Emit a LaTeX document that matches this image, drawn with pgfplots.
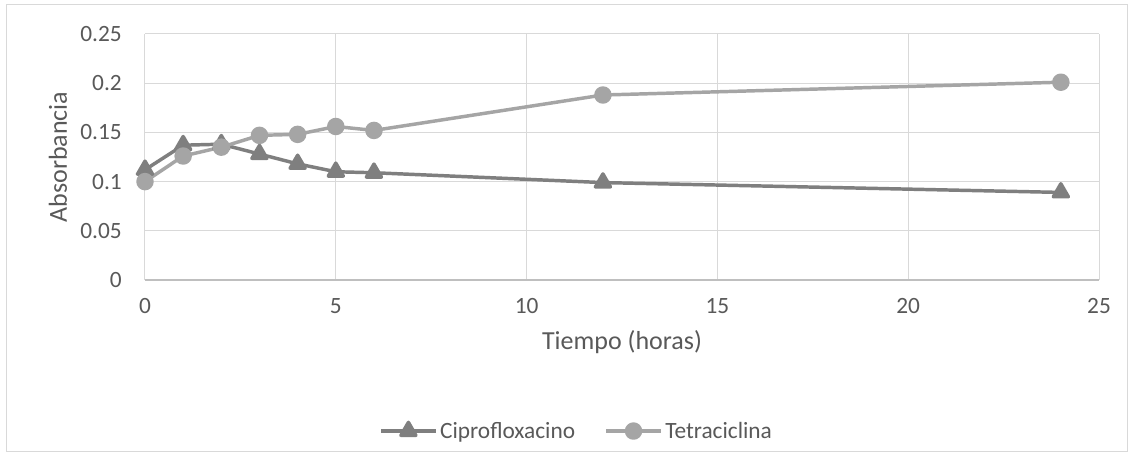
\documentclass[border=0pt]{standalone}
\usepackage{fontspec}
\setmainfont{Carlito}
\usepackage{pgfplots}
\pgfplotsset{compat=1.18}
\definecolor{cipro}{HTML}{7F7F7F}
\definecolor{tetra}{HTML}{A5A5A5}
\definecolor{gridc}{HTML}{D9D9D9}
\definecolor{basec}{HTML}{BFBFBF}
\definecolor{txt}{HTML}{595959}

\begin{document}
\begin{tikzpicture}
% chart area (1px = 0.75pt)
\fill[white] (-108.75pt,-132pt) rectangle (740.25pt,210pt);
\draw[gridc, line width=0.75pt] (-103.5pt,-129pt) rectangle (736.5pt,206.25pt);
\begin{axis}[
  width=715.5pt, height=184.5pt, scale only axis,
  xmin=0, xmax=25, ymin=0, ymax=0.25,
  clip=false,
  xtick={0,5,10,15,20,25}, xticklabels={0,5,10,15,20,25},
  ytick={0,0.05,0.1,0.15,0.2,0.25}, yticklabels={0,0.05,0.1,0.15,0.2,0.25},
  grid=major, grid style={gridc, line width=0.75pt},
  axis line style={draw=none},
  major tick length=0pt,
  tick label style={font=\fontsize{17.5}{21}\selectfont, text=txt, inner sep=0pt},
  yticklabel style={anchor=east, xshift=-17.25pt},
  xticklabel style={anchor=north, yshift=-13.5pt},
  xlabel={Tiempo (horas)}, ylabel={Absorbancia},
  label style={font=\fontsize{19.5}{23}\selectfont, text=txt},
  xlabel style={at={(axis description cs:0.5,-0.252)}, anchor=center},
  ylabel style={at={(axis description cs:-0.0912,0.5)}, anchor=center},
  legend columns=2,
  legend style={at={(axis description cs:0.4528,-0.614)}, anchor=center,
    draw=none, fill=none, font=\fontsize{17.5}{21}\selectfont, text=txt,
    /tikz/every even column/.append style={column sep=20pt},
    nodes={inner sep=2pt}},
  legend image code/.code={\draw[mark repeat=2, mark phase=2, #1]
    plot coordinates {(0pt,0pt) (20.5pt,0pt) (41pt,0pt)};},
]
\draw[basec, line width=1pt] (axis cs:0,0) -- (axis cs:25,0);
\addplot[cipro, line width=2.6pt, line join=round, mark=triangle*, mark size=6.5pt, mark options={solid}]
  coordinates {(0,0.112) (1,0.137) (2,0.138) (3,0.128) (4,0.118) (5,0.110) (6,0.109) (12,0.099) (24,0.089)};
\addplot[tetra, line width=2.6pt, line join=round, mark=*, mark size=5.25pt, mark options={solid}]
  coordinates {(0,0.100) (1,0.126) (2,0.135) (3,0.147) (4,0.148) (5,0.156) (6,0.152) (12,0.188) (24,0.201)};
\legend{Ciprofloxacino, Tetraciclina}
\end{axis}
\end{tikzpicture}
\end{document}
